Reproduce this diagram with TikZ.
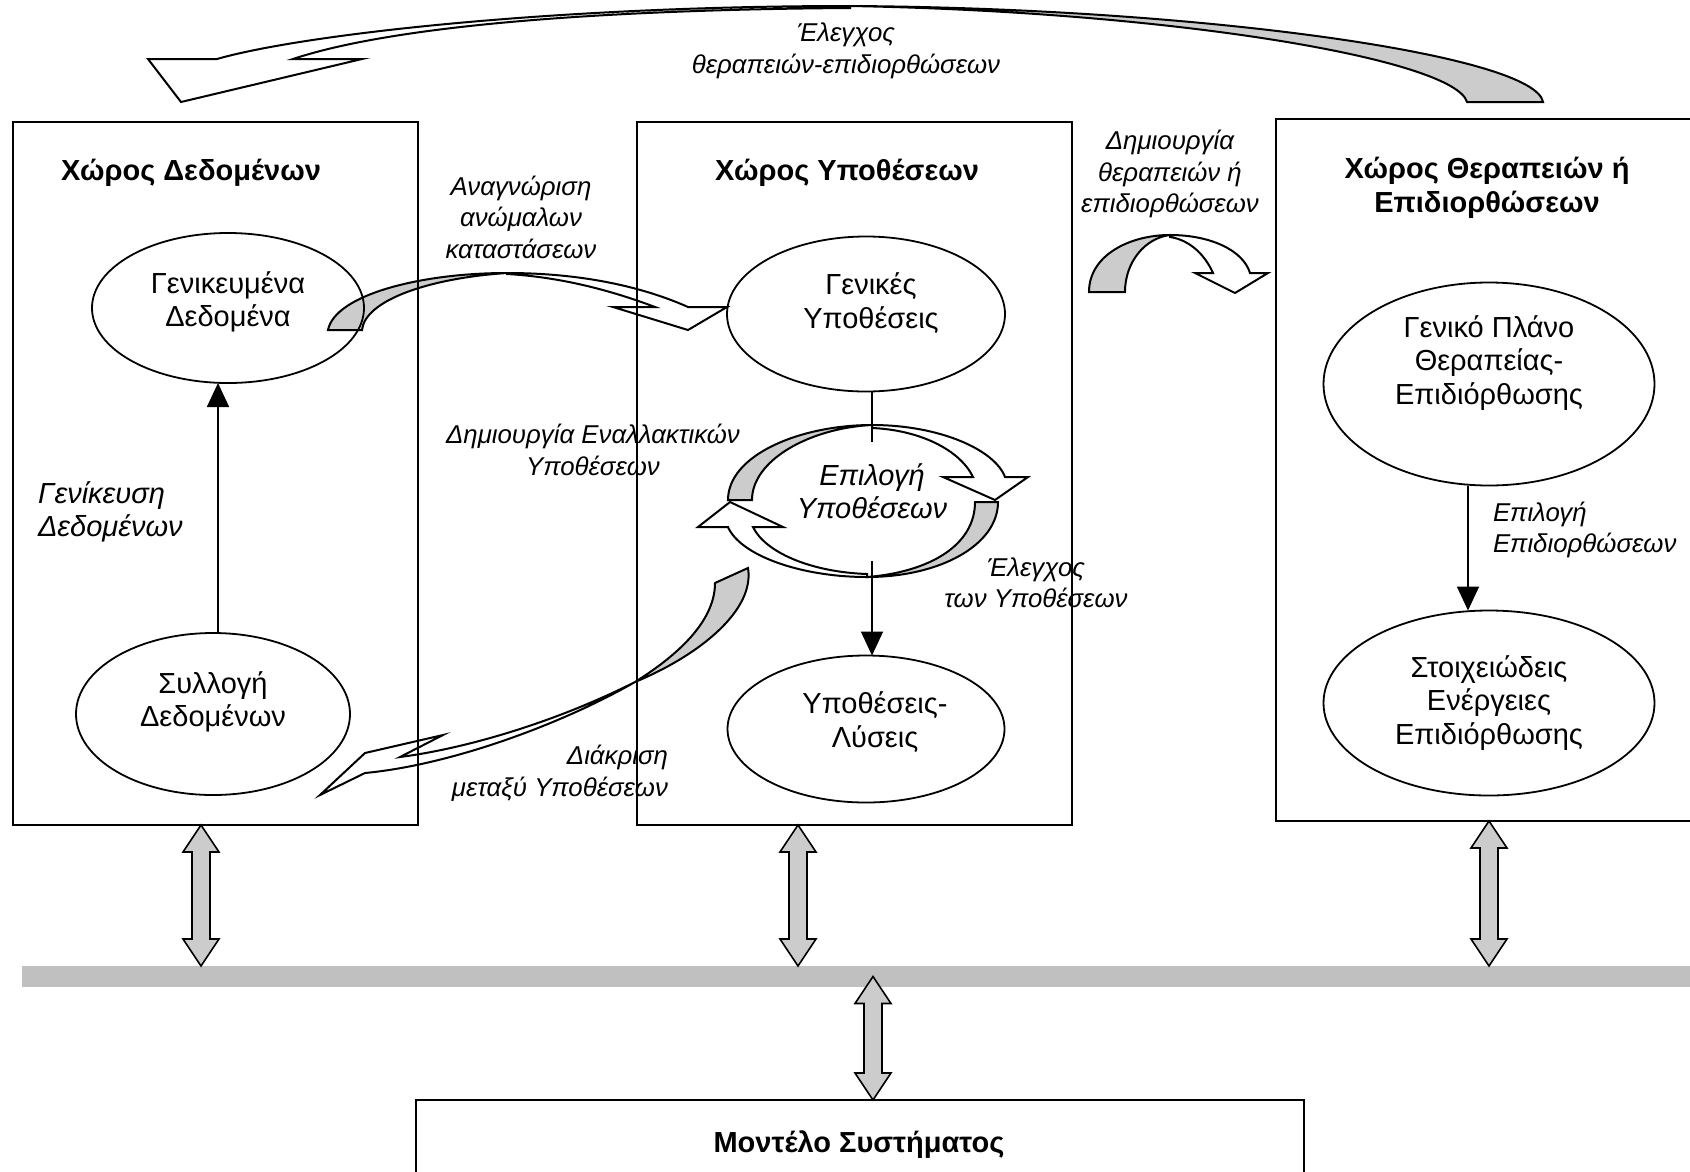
\documentclass[tikz,border=0pt]{standalone}
\usepackage{fontspec}
\setmainfont{Liberation Sans}
\usetikzlibrary{shapes.geometric,arrows.meta,calc}

\definecolor{bandgray}{HTML}{CCCCCC}
\definecolor{bargray}{HTML}{C0C0C0}

\begin{document}
\begin{tikzpicture}[x=1pt,y=-1pt,
  every node/.style={inner sep=0pt, outer sep=0pt},
  frame/.style={draw, line width=2.4pt},
  ell/.style={draw, ellipse, line width=1.8pt},
  body/.style={font=\fontsize{29}{33.5}\selectfont, align=center},
  bodyit/.style={font=\fontsize{29}{33.5}\selectfont\itshape, align=center},
  head/.style={font=\fontsize{29}{33.5}\selectfont\bfseries, align=center},
  lbl/.style={font=\fontsize{25.8}{31.5}\selectfont\itshape, align=center},
  band/.style={draw, line width=2pt, line join=miter},
  gband/.style={band, fill=bandgray},
  wband/.style={band, fill=white},
  blk/.style={line width=1.8pt, -{Triangle[length=24pt,width=22pt]}},
  plainline/.style={line width=1.8pt},
  dbl/.style={draw, line width=1.6pt, fill=bandgray, line join=miter,
    to path={let \p1=(\tikztostart), \p2=(\tikztotarget) in
      (\x1,\y1) -- (\x1+18pt,\y1-27pt) -- (\x1+9pt,\y1-27pt)
      -- (\x2+9pt,\y2+27pt) -- (\x2+18pt,\y2+27pt) -- (\x2,\y2)
      -- (\x2-18pt,\y2+27pt) -- (\x2-9pt,\y2+27pt)
      -- (\x1-9pt,\y1-27pt) -- (\x1-18pt,\y1-27pt) -- cycle}}
]
\clip (0,0) rectangle (1690,1171);

% shared bus
\node[fill=bargray, minimum width=1680pt, minimum height=21pt] (bar) at (862,976.5) {};

% big return arrow over the top
\filldraw[gband] (1543,102) .. controls (1535,55) and (1200,8) .. (850,6)
  .. controls (1180,12) and (1455,60) .. (1467,102) -- cycle;
\filldraw[wband] (850,6) .. controls (550,6) and (300,35) .. (217,59)
  -- (148,59) -- (181,102) -- (362,59) -- (293,59)
  .. controls (380,30) and (560,10) .. (850,8) -- cycle;

% data -> hypotheses arrow
\filldraw[gband] (328,330) .. controls (335,295) and (420,273) .. (507,273)
  .. controls (430,278) and (365,300) .. (362,330) -- cycle;
\filldraw[wband] (507,273) .. controls (590,273) and (650,290) .. (688,307)
  -- (727,307) -- (688,330) -- (613,307) -- (655,307)
  .. controls (610,290) and (560,277) .. (507,274) -- cycle;

% hypotheses -> treatments arrow
\filldraw[gband] (1089,292) .. controls (1089,255) and (1130,235) .. (1170,235)
  .. controls (1145,238) and (1125,262) .. (1125,292) -- cycle;
\filldraw[wband] (1170,235) .. controls (1210,235) and (1243,250) .. (1250,273)
  -- (1268,273) -- (1235,293) -- (1195,273) -- (1213,273)
  .. controls (1205,255) and (1190,240) .. (1170,237) -- cycle;

% selection loop, upper half
\filldraw[gband] (728,500) .. controls (728,455) and (800,425) .. (872,425)
  .. controls (810,428) and (752,460) .. (752,500) -- cycle;
\filldraw[wband] (872,425) .. controls (940,425) and (995,450) .. (1005,477)
  -- (1028,477) -- (995,500) -- (943,477) -- (973,477)
  .. controls (960,450) and (920,430) .. (872,428) -- cycle;
% selection loop, lower half
\filldraw[gband] (998,502) .. controls (998,545) and (940,577) .. (867,577)
  .. controls (930,572) and (975,545) .. (975,502) -- cycle;
\filldraw[wband] (867,577) .. controls (800,577) and (740,555) .. (728,527)
  -- (698,527) -- (730,502) -- (783,527) -- (753,527)
  .. controls (765,552) and (810,572) .. (867,574) -- cycle;

% discrimination arrow back to the data space
\filldraw[gband] (715,583) -- (748,568) .. controls (755,610) and (700,655) .. (635,682)
  .. controls (670,660) and (715,625) .. (715,583) -- cycle;
\filldraw[wband] (635,682) .. controls (560,725) and (450,765) .. (365,773)
  -- (320,795) -- (365,753) -- (443,735) -- (400,757)
  .. controls (470,748) and (560,720) .. (635,682) -- cycle;

% spaces
\node[frame, minimum width=405pt, minimum height=703pt] (dbox) at (215.5,473.5) {};
\node[frame, minimum width=435pt, minimum height=703pt] (hbox) at (854.5,473.5) {};
\node[frame, minimum width=424pt, minimum height=702pt] (tbox) at (1488,470) {};
\node[frame, minimum width=888pt, minimum height=140pt] (model) at (860,1170) {};

\node[head] (dboxt) at (191,173) {Χώρος Δεδομένων};
\node[head] (hboxt) at (847,173) {Χώρος Υποθέσεων};
\node[head] (tboxt) at (1487,188) {Χώρος Θεραπειών ή\\Επιδιορθώσεων};
\node[head] (modelt) at (859,1145) {Μοντέλο Συστήματος};

% ellipses
\node[ell, minimum width=272pt, minimum height=150pt] (gend) at (228,308) {};
\node[ell, minimum width=274pt, minimum height=162pt] (syll) at (213,714) {};
\node[ell, minimum width=278pt, minimum height=155pt] (gen) at (866,314) {};
\node[ell, minimum width=277pt, minimum height=147pt] (lys) at (866,729) {};
\node[ell, minimum width=331pt, minimum height=203pt] (plan) at (1489,384) {};
\node[ell, minimum width=331pt, minimum height=185pt] (stoix) at (1489,703) {};
\node[ellipse, minimum width=272pt, minimum height=152pt] (sel) at (864,501) {};

\node[body] (gendt) at ([yshift=6pt]gend.center) {Γενικευμένα\\Δεδομένα};
\node[body] (syllt) at ([yshift=12pt]syll.center) {Συλλογή\\Δεδομένων};
\node[body] (gent) at ([xshift=5pt,yshift=11pt]gen.center) {Γενικές\\Υποθέσεις};
\node[body] (lyst) at ([xshift=9pt,yshift=7pt]lys.center) {Υποθέσεις-\\Λύσεις};
\node[body] (plant) at ([yshift=21pt]plan.center) {Γενικό Πλάνο\\Θεραπείας-\\Επιδιόρθωσης};
\node[body] (stoixt) at (stoix.center) {Στοιχειώδεις\\Ενέργειες\\Επιδιόρθωσης};
\node[bodyit] (selt) at ([xshift=8pt,yshift=10pt]sel.center) {Επιλογή\\Υποθέσεων};

% labels
\node[lbl] (l1) at (846,51) {Έλεγχος\\θεραπειών-επιδιορθώσεων};
\node[lbl] (l2) at (521,217) {Αναγνώριση\\ανώμαλων\\καταστάσεων};
\node[lbl] (l3) at (1170,174) {Δημιουργία\\θεραπειών ή\\επιδιορθώσεων};
\node[lbl] (l4) at (593,450) {Δημιουργία Εναλλακτικών\\Υποθέσεων};
\node[lbl] (l5) at (1036,583) {Έλεγχος\\των Υποθέσεων};
\node[lbl, align=right, anchor=east] (l6) at (668,773) {Διάκριση\\μεταξύ Υποθέσεων};
\node[bodyit, align=left, anchor=west] (l7) at (38,512) {Γενίκευση\\Δεδομένων};
\node[lbl, align=left, anchor=west] (l8) at (1493,530) {Επιλογή\\Επιδιορθώσεων};

% connectors
\coordinate (ax) at (218,0);
\coordinate (mx) at (872,0);
\coordinate (rx) at (1468,0);
\draw[blk] (syll.north -| ax) -- (gend.south -| ax);
\draw[plainline, shorten >=-17pt] (gen.south -| mx) -- (sel.north -| mx);
\draw[blk, shorten <=-16pt] (sel.south -| mx) -- (lys.north -| mx);
\draw[blk] (plan.south -| rx) -- (stoix.north -| rx);

% links to the bus
\coordinate (xa) at (201,0);
\coordinate (xb) at (798,0);
\coordinate (xc) at (1489,0);
\coordinate (xd) at (873,0);
\draw[dbl] (dbox.south -| xa) to (bar.north -| xa);
\draw[dbl] (hbox.south -| xb) to (bar.north -| xb);
\draw[dbl] (tbox.south -| xc) to (bar.north -| xc);
\draw[dbl] (bar.center -| xd) to (model.north -| xd);
\end{tikzpicture}
\end{document}
